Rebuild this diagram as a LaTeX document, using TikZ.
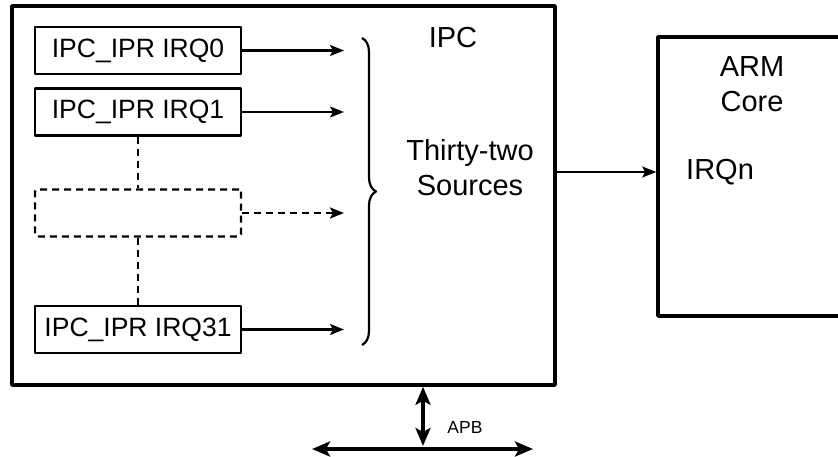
\documentclass[tikz,border=0pt]{standalone}
\usepackage{fontspec}
\setmainfont{Liberation Sans}
\usetikzlibrary{arrows.meta, positioning, decorations.pathreplacing}

\begin{document}
\begin{tikzpicture}[x=1pt, y=-1pt, line join=round,
    blockbox/.style={draw, line width=3.6pt, inner sep=0pt},
    irqbox/.style={draw, line width=2.4pt, minimum width=206pt, minimum height=47pt,
                   inner sep=0pt, font=\fontsize{26.5}{30}\selectfont},
    srcarrow/.style={-{Stealth[length=14pt, width=11pt, inset=3pt]}, line width=2.2pt},
    busarrow/.style={{Stealth[length=18pt, width=15pt, inset=4pt]}-{Stealth[length=18pt, width=15pt, inset=4pt]},
                     line width=4.5pt},
    dashline/.style={dash pattern=on 7pt off 5pt, line width=2.4pt},
    bigtext/.style={font=\fontsize{29}{35}\selectfont, align=center, inner sep=0pt}]
  \useasboundingbox (0,0) rectangle (838,457);
  \clip (0,0) rectangle (838,457);
  % IPC block and its sources
  \node[blockbox, minimum width=543pt, minimum height=379pt] (ipc) at (283.5,195.5) {};
  \node[irqbox] (irq0) at (138,50.5) {IPC\_IPR IRQ0};
  \node[irqbox] (irq1) at (138,112) {IPC\_IPR IRQ1};
  \node[irqbox, dashline, rounded corners=2pt] (irqx) at (138,213) {};
  \node[irqbox] (irq31) at (138,329.5) {IPC\_IPR IRQ31};
  \draw[dashline] (irq1.south) -- (irqx.north);
  \draw[dashline] (irqx.south) -- (irq31.north);
  \coordinate (srcin) at (344,0);
  \draw[srcarrow] (irq0.east) -- (irq0.east -| srcin);
  \draw[srcarrow] (irq1.east) -- (irq1.east -| srcin);
  \draw[srcarrow, dashline] (irqx.east) -- (irqx.east -| srcin);
  \draw[srcarrow] (irq31.east) -- (irq31.east -| srcin);
  \draw[decorate, decoration={brace, amplitude=14pt}, line width=2.2pt] (362,38) -- (362,345);
  \node[bigtext] (ipclabel) at (453,38) {IPC};
  \node[bigtext] (sources) at (470,168) {Thirty-two\\Sources};
  % ARM core
  \node[blockbox, minimum width=200pt, minimum height=279pt] (arm) at (758,176.5) {};
  \node[bigtext] (armlabel) at (752,84) {ARM\\Core};
  \node[bigtext, anchor=west] (irqn) at (686,172) {IRQn};
  \draw[srcarrow] (ipc.east |- irqn.west) -- (arm.west |- irqn.west);
  % APB bus
  \coordinate (apb) at (423,446);
  \coordinate (busl) at (312,449);
  \coordinate (busr) at (533,449);
  \draw[busarrow] (busl) -- (busr);
  \draw[busarrow] (ipc.south -| apb) -- (apb);
  \node[font=\fontsize{17.5}{20}\selectfont, inner sep=0pt] (apblabel) at (465,427) {APB};
\end{tikzpicture}
\end{document}
